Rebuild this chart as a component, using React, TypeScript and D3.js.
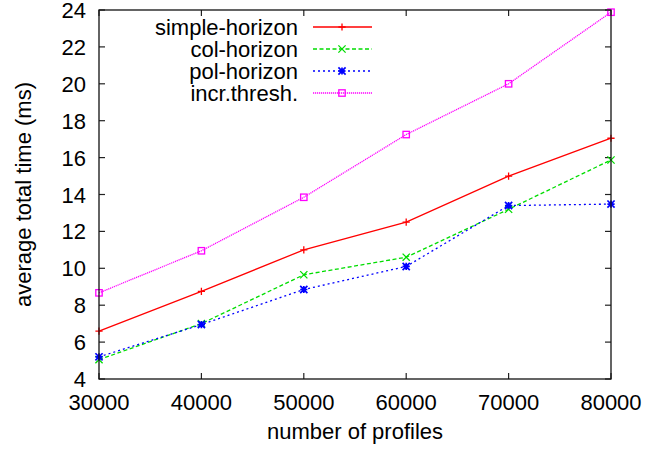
import React from "react";
import * as d3 from "d3";

const profiles = [30000, 40000, 50000, 60000, 70000, 80000];
const simpleHorizon = [6.6, 8.75, 11.0, 12.5, 15.0, 17.05];
const colHorizon = [5.05, 7.0, 9.65, 10.6, 13.2, 15.87];
const polHorizon = [5.2, 6.95, 8.85, 10.1, 13.4, 13.48];
const incrThresh = [8.67, 10.95, 13.85, 17.25, 20.0, 23.88];
const xTicks = [30000, 40000, 50000, 60000, 70000, 80000];
const yTicks = [4, 6, 8, 10, 12, 14, 16, 18, 20, 22, 24];

const seriesNames = ["simple-horizon", "col-horizon", "pol-horizon", "incr.thresh."];
const seriesValues = [simpleHorizon, colHorizon, polHorizon, incrThresh];
const seriesColors = ["#ff0000", "#00dd00", "#0000ff", "#ff00ff"];
const seriesDash = ["none", "4,2.5", "2,3", "1.2,0.8"];
const seriesMarker = ["plus", "cross", "star", "square"];

const W = 645, H = 452;
const M = { left: 99, right: 611, top: 10, bottom: 379 };
const FONT = "'Liberation Sans', Arial, Helvetica, sans-serif";

function Marker({ kind, x, y, color }: { kind: string; x: number; y: number; color: string }) {
  const s = 3.6;
  const sw = 1.3;
  if (kind === "plus") {
    return <path d={`M${x - s},${y}H${x + s}M${x},${y - s}V${y + s}`} stroke={color} strokeWidth={sw} fill="none" />;
  }
  if (kind === "cross") {
    return <path d={`M${x - s},${y - s}L${x + s},${y + s}M${x - s},${y + s}L${x + s},${y - s}`} stroke={color} strokeWidth={sw} fill="none" />;
  }
  if (kind === "star") {
    return <path d={`M${x - s},${y}H${x + s}M${x},${y - s}V${y + s}M${x - s},${y - s}L${x + s},${y + s}M${x - s},${y + s}L${x + s},${y - s}`} stroke={color} strokeWidth={sw + 0.4} fill="none" />;
  }
  return <rect x={x - 3.2} y={y - 3.2} width={6.4} height={6.4} stroke={color} strokeWidth={sw} fill="none" />;
}

export default function App() {
  const x = d3.scaleLinear().domain([30000, 80000]).range([M.left, M.right]);
  const y = d3.scaleLinear().domain([4, 24]).range([M.bottom, M.top]);
  const line = d3
    .line<number>()
    .x((_, i) => x(profiles[i]))
    .y((d) => y(d));
  const tl = 6;

  return (
    <svg width={W} height={H} style={{ position: "absolute", left: 0, top: 0, background: "#fff" }} fontFamily={FONT}>
      <rect x={0} y={0} width={W} height={H} fill="#fff" />
      {/* ticks */}
      {yTicks.map((t) => (
        <g key={"y" + t}>
          <line x1={M.left} x2={M.left + tl} y1={y(t)} y2={y(t)} stroke="#222" strokeWidth={1.2} />
          <line x1={M.right} x2={M.right - tl} y1={y(t)} y2={y(t)} stroke="#222" strokeWidth={1.2} />
          <text x={86} y={y(t) + 8} fontSize={22} textAnchor="end" fill="#000">
            {t}
          </text>
        </g>
      ))}
      {xTicks.map((t) => (
        <g key={"x" + t}>
          <line x1={x(t)} x2={x(t)} y1={M.bottom} y2={M.bottom - tl} stroke="#222" strokeWidth={1.2} />
          <line x1={x(t)} x2={x(t)} y1={M.top} y2={M.top + tl} stroke="#222" strokeWidth={1.2} />
          <text x={x(t)} y={410} fontSize={22} textAnchor="middle" fill="#000">
            {t}
          </text>
        </g>
      ))}
      {/* series */}
      {seriesValues.map((vals, si) => (
        <g key={"s" + si}>
          <path d={line(vals) || ""} fill="none" stroke={seriesColors[si]} strokeWidth={1.3} strokeDasharray={seriesDash[si]} />
          {vals.map((v, i) => (
            <Marker key={i} kind={seriesMarker[si]} x={x(profiles[i])} y={y(v)} color={seriesColors[si]} />
          ))}
        </g>
      ))}
      {/* legend */}
      {seriesNames.map((name, si) => {
        const cy = 27 + si * 22;
        return (
          <g key={"l" + si}>
            <text x={298} y={cy + 8} fontSize={22} textAnchor="end" fill="#000">
              {name}
            </text>
            <line x1={313} x2={372} y1={cy} y2={cy} stroke={seriesColors[si]} strokeWidth={1.3} strokeDasharray={seriesDash[si]} />
            <Marker kind={seriesMarker[si]} x={342} y={cy} color={seriesColors[si]} />
          </g>
        );
      })}
      {/* border */}
      <rect x={M.left} y={M.top} width={M.right - M.left} height={M.bottom - M.top} fill="none" stroke="#111" strokeWidth={1.3} />
      {/* axis labels */}
      <text x={(M.left + M.right) / 2} y={439} fontSize={22} textAnchor="middle" fill="#000">
        number of profiles
      </text>
      <text transform={`translate(31,${(M.top + M.bottom) / 2}) rotate(-90)`} fontSize={22} textAnchor="middle" fill="#000">
        average total time (ms)
      </text>
    </svg>
  );
}
